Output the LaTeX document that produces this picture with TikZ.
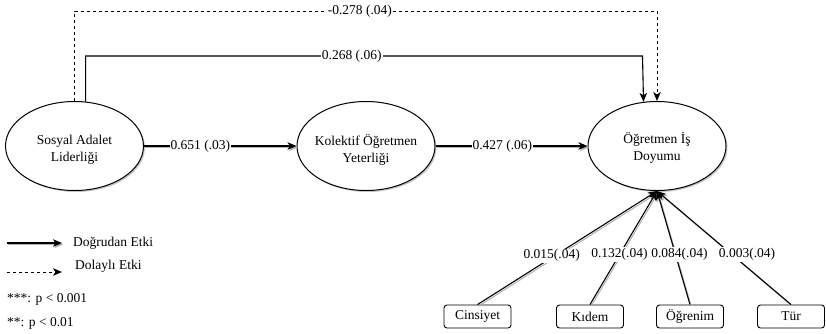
\documentclass[tikz,border=0pt]{standalone}
\usepackage{fontspec}
\setmainfont{Liberation Serif}
\newfontfamily\diagfont{Liberation Serif}
\usetikzlibrary{arrows.meta,shapes.geometric,shadows,calc}
\begin{document}
\begin{tikzpicture}[x=1pt,y=-1pt,
  font=\diagfont\fontsize{13.5pt}{17pt}\selectfont,
  >={Stealth[length=9pt,width=7.5pt,inset=2.5pt]},
  latent/.style={ellipse, draw, line width=1pt, minimum width=138pt, minimum height=89pt,
    inner sep=0pt, fill=white,
    drop shadow={shadow xshift=1.5pt, shadow yshift=-1.5pt, fill=black!45, opacity=0.5}},
  lattext/.style={align=center, inner sep=0pt},
  obsbox/.style={draw, rounded corners=3pt, minimum width=67pt, minimum height=23pt,
    inner sep=0pt, line width=0.9pt},
  direct/.style={->, line width=1.1pt},
  indirect/.style={->, line width=1pt, dash pattern=on 3pt off 3pt},
  shad/.style={preaction={draw=black!30, line width=1pt, transform canvas={shift={(1.2pt,-1.5pt)}}}},
  lbl/.style={fill=white, inner sep=1pt},
  legtext/.style={anchor=west, inner sep=0pt}
]
\useasboundingbox (0,0) rectangle (826,333);

\node[latent] (sos) at (74.5,146) {};
\node[latent] (kol) at (366,146) {};
\node[latent] (job) at (657,146) {};
\node[lattext] (sosT) at (74.5,150) {Sosyal Adalet\\Liderliği};
\node[lattext] (kolT) at (366,150) {Kolektif Öğretmen\\Yeterliği};
\node[lattext] (jobT) at (657,148) {Öğretmen İş\\Doyumu};

\node[obsbox] (cin) at (477.5,316.5) {Cinsiyet};
\node[obsbox] (kid) at (590,316.5) {Kıdem};
\node[obsbox] (ogr) at (690,316.5) {Öğrenim};
\node[obsbox] (tur) at (791,316.5) {Tür};

% main paths
\draw[direct,shad] (sos) -- node[lbl,pos=0.37] {0.651 (.03)} (kol);
\draw[direct,shad] (kol) -- node[lbl,pos=0.44] {0.427 (.06)} (job);

% direct top path
\coordinate (d2) at ($(job.north)+(-14.5,0)$);
\draw[direct] (sos.76.5) |- (d2 |- 0,56) node[lbl,pos=0.739] {0.268 (.06)} -- (job.107.7);

% indirect dashed path
\draw[indirect] (sos.north) |- (job.north |- 0,11) node[lbl,pos=0.745] {-0.278 (.04)} -- (job.north);

% controls
\draw[direct,shad] (cin.north) -- node[lbl,pos=0.43,xshift=-3pt] {0.015(.04)} (job.south);
\draw[direct,shad] (kid.north) -- node[lbl,pos=0.44] {0.132(.04)} (job.south);
\draw[direct,shad] (ogr.north) -- node[lbl,pos=0.44,xshift=4pt] {0.084(.04)} (job.south);
\draw[direct,shad] (tur.north) -- node[lbl,pos=0.44,xshift=15pt] {0.003(.04)} (job.south);

% legend
\coordinate (l1a) at (7,243);
\coordinate (l1b) at (62,243);
\coordinate (l2a) at (7,272);
\coordinate (l2b) at (62,272);
\draw[direct,shad] (l1a) -- (l1b);
\draw[indirect] (l2a) -- (l2b);
\node[legtext] (t1) at (73,243) {Doğrudan Etki};
\node[legtext] (t2) at (75,266) {Dolaylı Etki};
\node[legtext] (t3) at (7,299) {***: p < 0.001};
\node[legtext] (t4) at (7,323) {**: p < 0.01};
\end{tikzpicture}
\end{document}
